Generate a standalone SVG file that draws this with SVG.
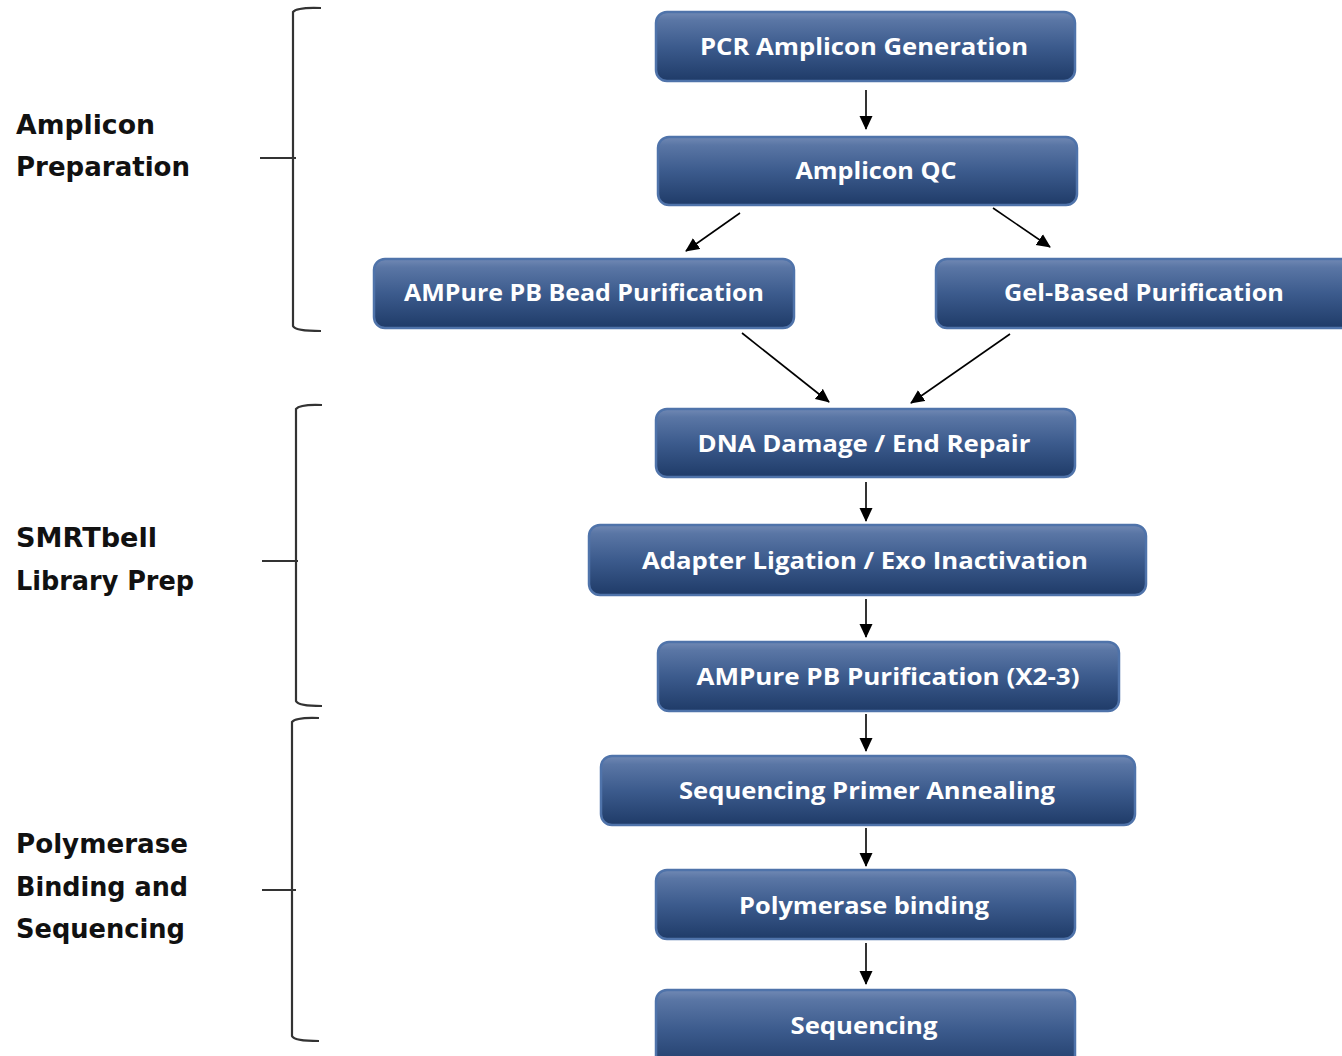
<svg xmlns="http://www.w3.org/2000/svg" width="1342" height="1056" viewBox="0 0 1342 1056">
<defs>
<linearGradient id="g" x1="0" y1="0" x2="0" y2="1">
<stop offset="0" stop-color="#7189b4"/>
<stop offset="0.12" stop-color="#5a76a5"/>
<stop offset="0.5" stop-color="#3c5b8d"/>
<stop offset="1" stop-color="#1f3b68"/>
</linearGradient>
<marker id="ah" viewBox="0 0 14 14" refX="13" refY="7" markerWidth="14" markerHeight="14" markerUnits="userSpaceOnUse" orient="auto">
<path d="M0,0.5 L14,7 L0,13.5 Z" fill="#000"/>
</marker>
<style>
.box{fill:url(#g);stroke:#4f73aa;stroke-width:2.5}
.nt{font-family:"Open Sans","DejaVu Sans",sans-serif;font-weight:700;font-size:24px;fill:#ffffff;text-anchor:middle}
.lbl{font-family:"DejaVu Sans","Liberation Sans",sans-serif;font-weight:700;font-size:26px;fill:#111}
.br{fill:none;stroke:#333;stroke-width:2.2}
.ar{fill:none;stroke:#000;stroke-width:1.6;marker-end:url(#ah)}
</style>
</defs>
<rect width="1342" height="1056" fill="#ffffff"/>

<g id="labels">
<text class="lbl" x="16" y="134" textLength="139" lengthAdjust="spacingAndGlyphs">Amplicon</text>
<text class="lbl" x="16" y="176" textLength="174" lengthAdjust="spacingAndGlyphs">Preparation</text>
<text class="lbl" x="16" y="547" textLength="141" lengthAdjust="spacingAndGlyphs">SMRTbell</text>
<text class="lbl" x="16" y="590" textLength="178" lengthAdjust="spacingAndGlyphs">Library Prep</text>
<text class="lbl" x="16" y="853" textLength="172" lengthAdjust="spacingAndGlyphs">Polymerase</text>
<text class="lbl" x="16" y="896" textLength="172" lengthAdjust="spacingAndGlyphs">Binding and</text>
<text class="lbl" x="16" y="938" textLength="169" lengthAdjust="spacingAndGlyphs">Sequencing</text>
</g>

<g id="brackets">
<path class="br" d="M321,8 Q297,7 293,12 V326 Q295,331 321,331"/>
<path class="br" d="M260,158 H296"/>
<path class="br" d="M322,405 Q300,404 296,409 V701 Q298,706 322,706"/>
<path class="br" d="M262,561 H298"/>
<path class="br" d="M319,718 Q296,717 292,722 V1036 Q294,1041 319,1041"/>
<path class="br" d="M262,890 H296"/>
</g>

<g id="connectors">
<path class="ar" d="M866,90 V129"/>
<path class="ar" d="M740,213 L686,251"/>
<path class="ar" d="M993,208 L1050,247"/>
<path class="ar" d="M742,333 L829,402"/>
<path class="ar" d="M1010,334 L911,403"/>
<path class="ar" d="M866,482 V521"/>
<path class="ar" d="M866,599 V637"/>
<path class="ar" d="M866,714 V751"/>
<path class="ar" d="M866,828 V866"/>
<path class="ar" d="M866,943 V984"/>
</g>

<g id="n1"><rect class="box" x="656" y="12" width="419" height="69" rx="11"/><text class="nt" x="864" y="55" textLength="328" lengthAdjust="spacingAndGlyphs">PCR Amplicon Generation</text></g>
<g id="n2"><rect class="box" x="658" y="137" width="419" height="68" rx="11"/><text class="nt" x="876" y="179" textLength="161" lengthAdjust="spacingAndGlyphs">Amplicon QC</text></g>
<g id="n3"><rect class="box" x="374" y="259" width="420" height="69" rx="11"/><text class="nt" x="584" y="301" textLength="360" lengthAdjust="spacingAndGlyphs">AMPure PB Bead Purification</text></g>
<g id="n4"><rect class="box" x="936" y="259" width="420" height="69" rx="11"/><text class="nt" x="1144" y="301" textLength="280" lengthAdjust="spacingAndGlyphs">Gel-Based Purification</text></g>
<g id="n5"><rect class="box" x="656" y="409" width="419" height="68" rx="11"/><text class="nt" x="864" y="452" textLength="333" lengthAdjust="spacingAndGlyphs">DNA Damage / End Repair</text></g>
<g id="n6"><rect class="box" x="589" y="525" width="557" height="70" rx="11"/><text class="nt" x="865" y="569" textLength="446" lengthAdjust="spacingAndGlyphs">Adapter Ligation / Exo Inactivation</text></g>
<g id="n7"><rect class="box" x="658" y="642" width="461" height="69" rx="11"/><text class="nt" x="888" y="685" textLength="383" lengthAdjust="spacingAndGlyphs">AMPure PB Purification (X2-3)</text></g>
<g id="n8"><rect class="box" x="601" y="756" width="534" height="69" rx="11"/><text class="nt" x="867" y="799" textLength="376" lengthAdjust="spacingAndGlyphs">Sequencing Primer Annealing</text></g>
<g id="n9"><rect class="box" x="656" y="870" width="419" height="69" rx="11"/><text class="nt" x="864" y="914" textLength="250" lengthAdjust="spacingAndGlyphs">Polymerase binding</text></g>
<g id="n10"><rect class="box" x="656" y="990" width="419" height="80" rx="11"/><text class="nt" x="864" y="1034" textLength="147" lengthAdjust="spacingAndGlyphs">Sequencing</text></g>
</svg>
